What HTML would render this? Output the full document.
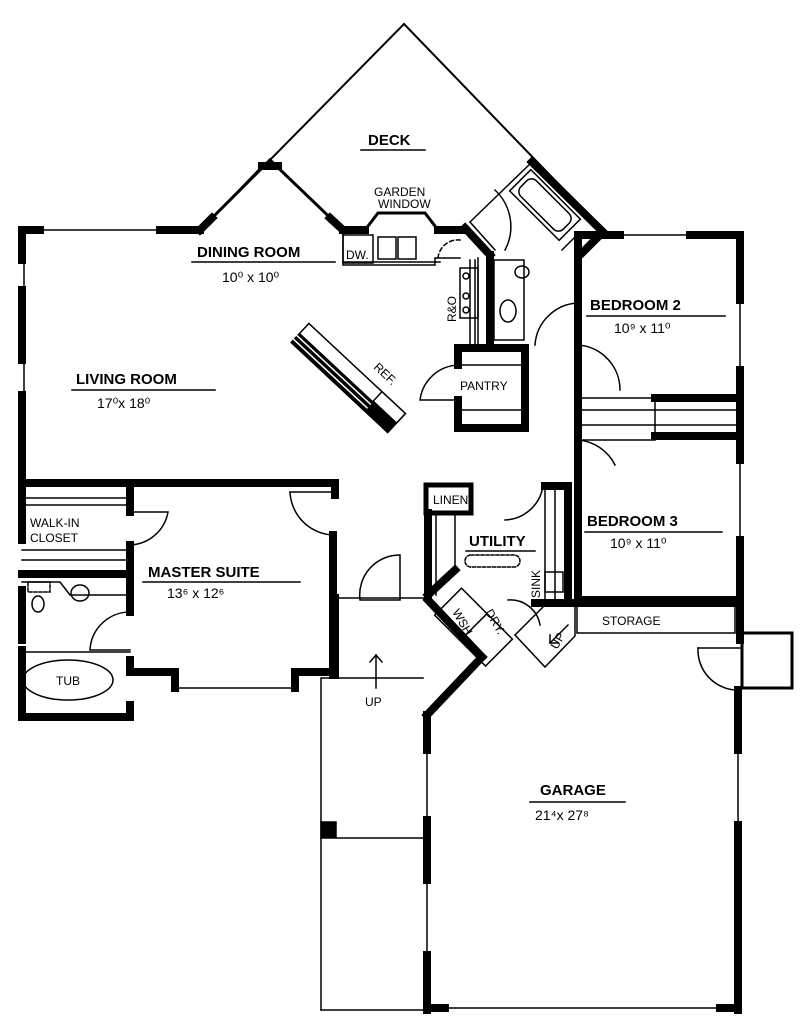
<!DOCTYPE html>
<html><head><meta charset="utf-8"><style>
html,body{margin:0;padding:0;background:#fff}
svg{display:block}
text{font-family:"Liberation Sans",sans-serif;fill:#000}
.l{font-size:15px;font-weight:bold}
.s{font-size:12px}
.d{font-size:14px}
</style></head><body>
<svg width="800" height="1020" viewBox="0 0 800 1020" xmlns="http://www.w3.org/2000/svg" stroke="#000" fill="none" stroke-linecap="square">
<g stroke-width="2">
<line x1="270" y1="160" x2="404" y2="24"/>
<line x1="404" y1="24" x2="603" y2="230"/>
</g>
<g stroke-width="3">
<line x1="200" y1="230" x2="270" y2="160"/>
<line x1="270" y1="160" x2="343" y2="230"/>
<polyline points="365,230 378,213 425,213 438,230"/>
</g>
<g stroke-width="8">
<line x1="22" y1="230" x2="40" y2="230"/>
<line x1="160" y1="230" x2="200" y2="230"/>
<line x1="200" y1="230" x2="212" y2="218"/>
<line x1="262" y1="166" x2="278" y2="166"/>
<line x1="330" y1="218" x2="343" y2="230"/>
<line x1="343" y1="230" x2="365" y2="230"/>
<line x1="438" y1="230" x2="465" y2="230"/>
<line x1="465" y1="228" x2="490" y2="255"/>
<line x1="490" y1="255" x2="490" y2="348"/>
<line x1="532" y1="162" x2="603" y2="232"/>
<line x1="603" y1="232" x2="580" y2="255"/>
<line x1="578" y1="235" x2="578" y2="600"/>
<line x1="578" y1="235" x2="620" y2="235"/>
<line x1="690" y1="235" x2="740" y2="235"/>
<line x1="740" y1="235" x2="740" y2="300"/>
<line x1="740" y1="370" x2="740" y2="460"/>
<line x1="740" y1="540" x2="740" y2="640"/>
<line x1="22" y1="230" x2="22" y2="260"/>
<line x1="22" y1="290" x2="22" y2="360"/>
<line x1="22" y1="395" x2="22" y2="540"/>
<line x1="22" y1="590" x2="22" y2="640"/>
<line x1="22" y1="650" x2="22" y2="717"/>
<line x1="22" y1="483" x2="335" y2="483"/>
<line x1="335" y1="483" x2="335" y2="495"/>
<line x1="130" y1="485" x2="130" y2="512"/>
<line x1="130" y1="545" x2="130" y2="612"/>
<line x1="22" y1="574" x2="130" y2="574"/>
<line x1="333" y1="535" x2="333" y2="675"/>
<polyline points="130,660 130,672 175,672 175,688"/>
<polyline points="295,688 295,672 333,672"/>
<line x1="22" y1="717" x2="130" y2="717"/>
<line x1="130" y1="705" x2="130" y2="717"/>
<line x1="578" y1="600" x2="740" y2="600"/>
<line x1="655" y1="398" x2="740" y2="398"/>
<line x1="655" y1="436" x2="740" y2="436"/>
<polyline points="458,348 525,348 525,428 458,428 458,400"/>
<line x1="458" y1="348" x2="458" y2="365"/>
<rect x="426" y="485" width="45" height="28" stroke-width="5"/>
<line x1="545" y1="486" x2="568" y2="486"/>
<line x1="568" y1="486" x2="568" y2="600"/>
<line x1="428" y1="513" x2="428" y2="595"/>
<line x1="428" y1="595" x2="455" y2="570"/>
<line x1="428" y1="600" x2="482" y2="657"/>
<line x1="482" y1="657" x2="427" y2="715"/>
<line x1="427" y1="715" x2="427" y2="750"/>
<line x1="427" y1="820" x2="427" y2="880"/>
<line x1="427" y1="955" x2="427" y2="1010"/>
<line x1="738" y1="690" x2="738" y2="750"/>
<line x1="738" y1="825" x2="738" y2="1010"/>
<line x1="427" y1="1008" x2="445" y2="1008"/>
<line x1="720" y1="1008" x2="738" y2="1008"/>
<line x1="320" y1="672" x2="333" y2="672"/>
<line x1="335" y1="598" x2="335" y2="675"/>
<line x1="575" y1="603" x2="740" y2="603"/>
<line x1="535" y1="603" x2="575" y2="603"/>
</g>
<g stroke-width="1.5">
<line x1="24" y1="260" x2="24" y2="290"/>
<line x1="24" y1="360" x2="24" y2="395"/>
<line x1="40" y1="230" x2="160" y2="230"/>
<line x1="620" y1="235" x2="690" y2="235"/>
<line x1="740" y1="300" x2="740" y2="370"/>
<line x1="740" y1="460" x2="740" y2="540"/>
<line x1="175" y1="688" x2="295" y2="688"/>
<line x1="427" y1="750" x2="427" y2="820"/>
<line x1="427" y1="880" x2="427" y2="955"/>
<line x1="738" y1="750" x2="738" y2="825"/>
<line x1="445" y1="1008" x2="720" y2="1008"/>
<line x1="212" y1="218" x2="262" y2="166"/>
<polyline points="343,233 343,265 435,265 435,258 460,258"/>
<line x1="343" y1="262" x2="440" y2="262"/>
<rect x="343" y="235" width="30" height="28"/>
<rect x="378" y="237" width="18" height="22"/>
<rect x="398" y="237" width="18" height="22"/>
<line x1="470" y1="260" x2="470" y2="348"/>
<line x1="475" y1="260" x2="475" y2="348"/>
<line x1="478" y1="258" x2="478" y2="348"/>
<rect x="460" y="268" width="18" height="50"/>
<circle cx="466" cy="276" r="3"/><circle cx="466" cy="296" r="3"/><circle cx="466" cy="310" r="3"/>
<rect x="494" y="260" width="30" height="80"/>
<ellipse cx="508" cy="311" rx="8" ry="11"/>
<ellipse cx="522" cy="272" rx="7" ry="6"/>
<path d="M438 258 A20 20 0 0 1 460 240" stroke-dasharray="4,3"/>
<!-- bath -->
<line x1="470" y1="222" x2="532" y2="162"/>
<line x1="470" y1="222" x2="495" y2="250"/>
<line x1="562" y1="250" x2="580" y2="232"/>
<g transform="translate(545,205) rotate(45)">
<rect x="-35" y="-15" width="70" height="30"/>
<rect x="-30" y="-11" width="60" height="22" rx="7"/>
</g>
<path d="M495 190 A50 50 0 0 1 505 250"/>
<!-- REF cabinet -->
<g transform="translate(300,333) rotate(43)">
<rect x="0" y="-13" width="132" height="26"/>
<rect x="0" y="0" width="132" height="13" fill="#000" stroke="none"/>
<line x1="0" y1="4" x2="100" y2="4" stroke="#fff" stroke-width="1.5"/>
<line x1="0" y1="9" x2="100" y2="9" stroke="#fff" stroke-width="1.5"/>
<rect x="100" y="-13" width="32" height="13" fill="#fff"/>
</g>
<line x1="458" y1="365" x2="525" y2="365"/>
<line x1="458" y1="410" x2="525" y2="410"/>
<path d="M458 365 A40 40 0 0 0 420 400 L458 400"/>
<path d="M578 303 A45 45 0 0 0 535 345"/>
<path d="M578 345 A45 45 0 0 1 620 390"/>
<path d="M578 440 A45 45 0 0 1 615 465"/>
<path d="M290 492 L335 492"/><path d="M290 492 A45 45 0 0 0 335 535"/>
<path d="M130 512 L168 512 A40 40 0 0 1 130 545"/>
<path d="M130 612 A40 40 0 0 0 90 650 L130 650"/>
<path d="M400 555 A40 40 0 0 0 360 600 L400 600 Z"/>
<path d="M543 486 A40 40 0 0 1 505 520"/>
<path d="M508 600 A30 30 0 0 1 540 625"/>
<path d="M698 648 L740 648"/><path d="M698 648 A40 40 0 0 0 740 690"/>
<rect x="575" y="398" width="80" height="42"/>
<line x1="578" y1="410" x2="655" y2="410"/><line x1="578" y1="425" x2="655" y2="425"/>
<line x1="655" y1="410" x2="740" y2="410"/><line x1="655" y1="425" x2="740" y2="425"/>
<line x1="22" y1="498" x2="130" y2="498"/><line x1="22" y1="505" x2="130" y2="505"/>
<line x1="22" y1="550" x2="130" y2="550"/><line x1="22" y1="560" x2="130" y2="560"/>
<polyline points="22,582 60,582 70,595 130,595"/>
<rect x="28" y="582" width="22" height="10" stroke-dasharray="3,2"/>
<ellipse cx="80" cy="593" rx="9" ry="8"/>
<ellipse cx="38" cy="604" rx="6" ry="8"/>
<line x1="22" y1="652" x2="130" y2="652"/>
<ellipse cx="68" cy="680" rx="45" ry="20"/>
<line x1="436" y1="513" x2="436" y2="595"/><line x1="455" y1="513" x2="455" y2="570"/>
<line x1="545" y1="490" x2="545" y2="600"/><line x1="555" y1="490" x2="555" y2="600"/>
<rect x="545" y="572" width="18" height="20"/>
<rect x="465" y="555" width="55" height="12" rx="6" stroke-dasharray="3,2"/>
<g transform="rotate(45 470 625)"><rect x="438" y="605" width="72" height="38"/><line x1="474" y1="605" x2="474" y2="643"/></g>
<line x1="547" y1="603" x2="515" y2="635"/>
<polyline points="515,635 545,667 575,636 575,603"/>
<rect x="577" y="605" width="158" height="28"/>
<rect x="742" y="633" width="50" height="55" stroke-width="3"/>
<polyline points="321,1010 321,678 423,678"/>
<line x1="321" y1="838" x2="423" y2="838"/>
<rect x="321" y="822" width="15" height="15" fill="#000"/>
<line x1="321" y1="1010" x2="427" y2="1010"/>
<line x1="335" y1="598" x2="428" y2="598"/>
<line x1="376" y1="688" x2="376" y2="655"/><polyline points="370,662 376,655 382,662"/>
<line x1="568" y1="625" x2="550" y2="643"/><polyline points="550,635 550,643 558,643"/>
<line x1="192" y1="262" x2="335" y2="262"/>
<line x1="72" y1="390" x2="215" y2="390"/>
<line x1="587" y1="316" x2="725" y2="316"/>
<line x1="585" y1="532" x2="722" y2="532"/>
<line x1="143" y1="582" x2="300" y2="582"/>
<line x1="361" y1="150" x2="425" y2="150"/>
<line x1="530" y1="802" x2="625" y2="802"/>
<line x1="466" y1="551" x2="535" y2="551"/>
</g>
<g stroke="none">
<text class="l" x="368" y="145">DECK</text>
<text class="s" x="374" y="196">GARDEN</text>
<text class="s" x="378" y="208">WINDOW</text>
<text class="l" x="197" y="257">DINING  ROOM</text>
<text class="d" x="222" y="282">10⁰ x 10⁰</text>
<text class="s" x="346" y="259">DW.</text>
<text class="l" x="76" y="384">LIVING  ROOM</text>
<text class="d" x="97" y="408">17⁰x 18⁰</text>
<text class="l" x="590" y="310">BEDROOM   2</text>
<text class="d" x="614" y="333">10⁹ x 11⁰</text>
<text class="l" x="587" y="526">BEDROOM   3</text>
<text class="d" x="610" y="548">10⁹ x 11⁰</text>
<text class="s" x="460" y="390">PANTRY</text>
<text class="s" x="433" y="504">LINEN</text>
<text class="l" x="469" y="546">UTILITY</text>
<text class="s" x="30" y="527">WALK-IN</text>
<text class="s" x="30" y="542">CLOSET</text>
<text class="l" x="148" y="577">MASTER  SUITE</text>
<text class="d" x="167" y="598">13⁶ x 12⁶</text>
<text class="s" x="56" y="685">TUB</text>
<text class="s" x="602" y="625">STORAGE</text>
<text class="s" x="365" y="706">UP</text>
<text class="l" x="540" y="795">GARAGE</text>
<text class="d" x="535" y="820">21⁴x 27⁸</text>
<text class="s" transform="translate(456,322) rotate(-90)">R&amp;O</text>
<text class="s" transform="translate(540,598) rotate(-90)">SINK</text>
<text class="s" transform="translate(557,650) rotate(-60)">UP</text>
<text class="s" transform="translate(452,612) rotate(60)">WSH</text>
<text class="s" transform="translate(485,612) rotate(60)">DRY.</text>
<text class="s" fill="#fff" style="fill:#000" transform="translate(373,368) rotate(43)">REF.</text>
</g>
</svg>
</body></html>
